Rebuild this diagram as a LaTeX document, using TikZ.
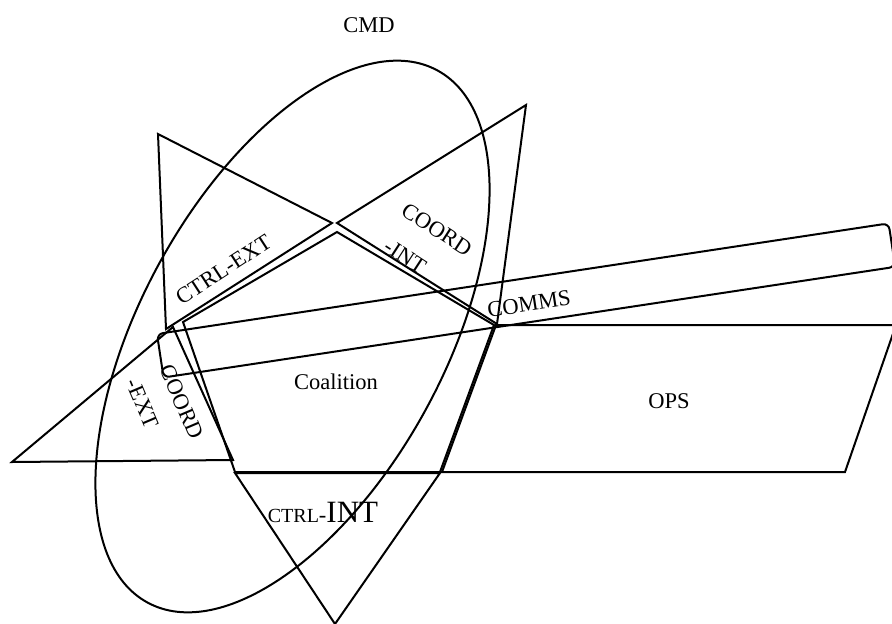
\documentclass[tikz,border=0pt]{standalone}
\usepackage{fontspec}
\setmainfont{Liberation Serif}
\usepackage{tikz}

\begin{document}
\begin{tikzpicture}[x=1pt,y=-1pt,line width=2pt,
    lbl/.style={font=\fontsize{22.5}{37}\selectfont, align=left, inner sep=0pt}]

\clip (0,0) rectangle (892,624);

% Command ellipse
\draw[rotate around={61.4:(292.5,336.5)}] (292.5,336.5) ellipse (303pt and 152pt);
\node[lbl,anchor=base] at (369,32) {CMD};

% Coalition pentagon
\coordinate (p1) at (183,322);
\coordinate (p2) at (337,232);
\coordinate (p3) at (494,325);
\coordinate (p4) at (440,472);
\coordinate (p5) at (235,472);
\draw (p1) -- (p2) -- (p3) -- (p4) -- (p5) -- cycle;
\node[lbl,anchor=base] at (336,389) {Coalition};

% CTRL-EXT triangle
\draw (166,329) -- (158,134) -- (332,223) -- cycle;
\node[lbl,rotate=33] at (223.5,269.5) {CTRL-EXT};

% COORD-INT triangle
\draw (337,223) -- (526,105) -- (497,324) -- cycle;
\node[lbl,rotate=-33,font=\fontsize{22.5}{40}\selectfont] at (426,246) {COORD\\\hspace*{5pt}-INT};

% COMMS bar
\draw[rounded corners=6pt, rotate around={8.6:(157,334)}] (157,334) rectangle ++(740,44);
\node[lbl,rotate=8.6] at (529,304) {COMMS};

% OPS parallelogram
\draw (496,325) -- (896,325) -- (845,472) -- (442,472) -- cycle;
\node[lbl,anchor=base] at (669,408) {OPS};

% CTRL-INT triangle
\draw (235,473) -- (440,473) -- (335,624) -- cycle;
\node[lbl,anchor=base] at (323,522) {{\fontsize{20}{22}\selectfont CTRL}-{\fontsize{31}{32}\selectfont INT}};

% COORD-EXT triangle
\draw (173,327) -- (12,462) -- (233,460) -- cycle;
\node[lbl,rotate=-67] at (165,409) {COORD\\-EXT};

\end{tikzpicture}
\end{document}
